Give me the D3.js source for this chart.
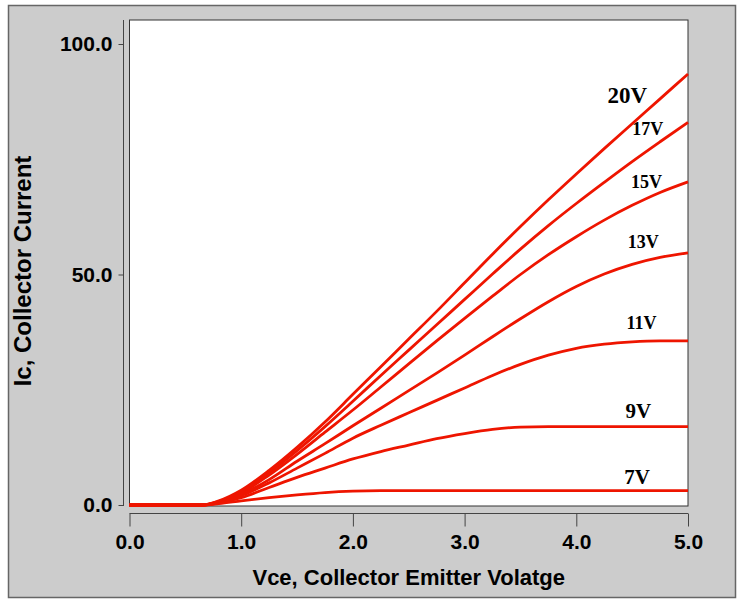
<!DOCTYPE html>
<html>
<head>
<meta charset="utf-8">
<script src="https://cdn.jsdelivr.net/npm/d3@7"></script>
<style>
  body { margin: 0; background: #fff; }
  svg { display: block; }
</style>
</head>
<body>
<svg id="chart" width="741" height="602"></svg>
<script>
// Vce grid shared by every curve
const vce = [0, 0.65, 0.8, 1.0, 1.25, 1.5, 1.75, 2.0, 2.25, 2.5, 2.75, 3.0, 3.25, 3.5, 3.75, 4.0, 4.25, 4.5, 4.75, 5.0];

// collector current for each gate voltage
const ic20 = [0, 0, 0.9, 3.2, 7.5, 12.5, 18, 24, 30, 36, 42, 48.2, 54.4, 60.4, 66.2, 71.8, 77.3, 82.7, 88.1, 93.5];
const ic17 = [0, 0, 0.8, 2.9, 7, 11.8, 17, 22.5, 28.1, 33.6, 39.1, 44.6, 50.1, 55.5, 60.6, 65.4, 70, 74.5, 78.8, 83];
const ic15 = [0, 0, 0.7, 2.6, 6.5, 11, 15.8, 20.6, 25.6, 30.6, 35.6, 40.5, 45.3, 50, 54.3, 58.2, 61.8, 65, 67.8, 70.1];
const ic13 = [0, 0, 0.6, 2.3, 5.5, 9.5, 13.3, 17.2, 21, 24.8, 28.6, 32.5, 36.5, 40.4, 44.1, 47.4, 50.1, 52.2, 53.7, 54.7];
const ic11 = [0, 0, 0.55, 2.0, 4.8, 8, 11.2, 14.5, 17.3, 20, 22.7, 25.4, 28.1, 30.5, 32.5, 34, 34.9, 35.4, 35.6, 35.6];
const ic9  = [0, 0, 0.45, 1.6, 3.8, 6, 8, 10, 11.6, 13, 14.4, 15.5, 16.4, 16.9, 17, 17, 17, 17, 17, 17];
const ic7  = [0, 0, 0.3, 0.9, 1.6, 2.2, 2.7, 3.0, 3.1, 3.1, 3.1, 3.1, 3.1, 3.1, 3.1, 3.1, 3.1, 3.1, 3.1, 3.1];

const gateNames = ["20V", "17V", "15V", "13V", "11V", "9V", "7V"];
const gateSeries = [ic20, ic17, ic15, ic13, ic11, ic9, ic7];
// where each name sits, in data units (vce, ic)
const labelVce = [4.28, 4.5, 4.49, 4.46, 4.45, 4.44, 4.43];
const labelIc  = [87.2, 80.3, 68.8, 55.8, 38.2, 18.9, 4.6];
const bigLabel = [true, false, false, false, false, true, true];

const xTicks = [0, 1, 2, 3, 4, 5];
const yTicks = [0, 50, 100];

const svg = d3.select("#chart")
const sans = "'Liberation Sans', Arial, sans-serif"
const serif = "'Liberation Serif', 'Times New Roman', serif"

// grey frame
svg.append("rect")
    .attr("x", 8.5).attr("y", 5.5)
    .attr("width", 727).attr("height", 592)
    .attr("fill", "#cccccc")
    .attr("stroke", "#666")
    .attr("stroke-width", 1.5)

const x = d3.scaleLinear().domain([0, 5]).range([129.5, 688])
const y = d3.scaleLinear().domain([0, 100]).range([505, 44])

const plotTop = 20, plotBottom = 506

// plot box
svg.append("rect")
    .attr("x", x(0)).attr("y", plotTop)
    .attr("width", x(5) - x(0)).attr("height", plotBottom - plotTop)
    .attr("fill", "#fff")
    .attr("stroke", "#333")
    .attr("stroke-width", 1)

// y axis, detached to the left
const yAxis = svg.append("g")
    .attr("transform", "translate(123.5,0)")
    .call(d3.axisLeft(y).tickValues(yTicks).tickFormat(d3.format(".1f")).tickSize(5).tickPadding(6))
yAxis.select(".domain").remove()
yAxis.append("line")
    .attr("x1", 0).attr("x2", 0)
    .attr("y1", plotTop).attr("y2", plotBottom)
    .attr("stroke", "#444")
yAxis.selectAll(".tick line").attr("stroke", "#444")
yAxis.selectAll("text")
    .attr("font-family", sans).attr("font-weight", "bold").attr("font-size", 21)
    .attr("fill", "#000")

// x axis, detached below
const xAxis = svg.append("g")
    .attr("transform", "translate(0,513.5)")
    .call(d3.axisBottom(x).tickValues(xTicks).tickFormat(d3.format(".1f")).tickSize(13).tickPadding(8))
xAxis.select(".domain").remove()
xAxis.append("line")
    .attr("x1", x(0)).attr("x2", x(5))
    .attr("stroke", "#444")
xAxis.selectAll(".tick line").attr("stroke", "#444")
xAxis.selectAll("text")
    .attr("font-family", sans).attr("font-weight", "bold").attr("font-size", 21)
    .attr("fill", "#000")

// axis titles
svg.append("text")
    .attr("x", x(2.5)).attr("y", 585)
    .attr("text-anchor", "middle")
    .attr("font-family", sans).attr("font-weight", "bold").attr("font-size", 22)
    .text("Vce, Collector Emitter Volatge")

svg.append("text")
    .attr("transform", "translate(31,271) rotate(-90)")
    .attr("text-anchor", "middle")
    .attr("font-family", sans).attr("font-weight", "bold").attr("font-size", 24)
    .text("Ic, Collector Current")

// curves
const line = d3.line()
    .x((d, i) => x(vce[i]))
    .y(d => y(d))
    .curve(d3.curveMonotoneX)

svg.append("g")
    .selectAll("path")
    .data(gateSeries)
    .enter()
    .append("path")
    .attr("d", d => line(d))
    .attr("fill", "none")
    .attr("stroke", "#ee1500")
    .attr("stroke-width", 2.8)

// curve names
svg.append("g")
    .selectAll("text")
    .data(gateNames)
    .enter()
    .append("text")
    .attr("x", (d, i) => x(labelVce[i]))
    .attr("y", (d, i) => y(labelIc[i]))
    .attr("font-family", serif)
    .attr("font-weight", "bold")
    .attr("font-size", (d, i) => i == 0 ? 23 : (bigLabel[i] ? 21 : 18))
    .text(d => d)
</script>
</body>
</html>
